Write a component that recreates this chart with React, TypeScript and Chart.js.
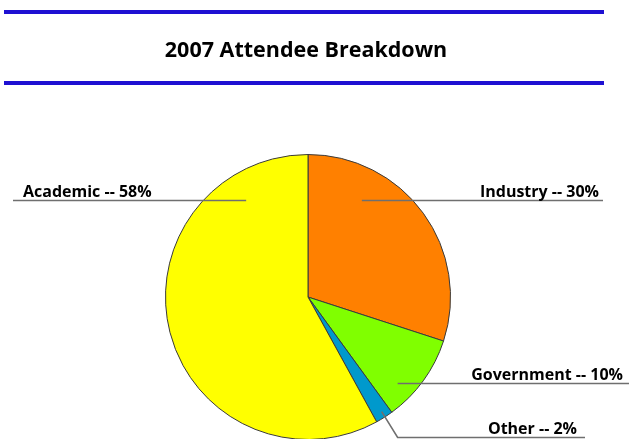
import React, { useEffect, useRef } from "react";
import { Chart, registerables } from "chart.js";

Chart.register(...registerables);

const TITLE = "2007 Attendee Breakdown";
const categories = ["Industry", "Government", "Other", "Academic"];
const percentages = [30, 10, 2, 58];
const sliceColors = ["#FF8000", "#80FF00", "#0099CC", "#FFFF00"];

// Label leader layout, expressed relative to the pie centre in radius units
const labelLayout = [
  { ax: 0.378, ly: -0.678, side: "right", endX: 603, textX: 599 },
  { ax: 0.629, ly: 0.601, side: "right", endX: 629, textX: 623 },
  { ax: 0.517, ay: 0.804, ly: 0.979, elbowX: 0.629, side: "right", endX: 585, textX: 577 },
  { ax: -0.434, ly: -0.678, side: "left", endX: 13, textX: 23 },
];

const FONT = "'Open Sans', 'DejaVu Sans', sans-serif";

const decorPlugin = {
  id: "decor",
  afterDraw(chart: any) {
    const ctx = chart.ctx;
    const meta = chart.getDatasetMeta(0);
    const arc0 = meta.data[0];
    if (!arc0) return;
    const cx = arc0.x;
    const cy = arc0.y;
    const r = arc0.outerRadius;

    ctx.save();
    ctx.fillStyle = "#1E10D2";
    ctx.fillRect(4, 10, 600, 4);
    ctx.fillRect(4, 81, 600, 4);
    ctx.fillStyle = "#000";
    ctx.font = `bold 21.5px ${FONT}`;
    ctx.textAlign = "center";
    ctx.textBaseline = "alphabetic";
    ctx.fillText(TITLE, 306, 57);

    ctx.strokeStyle = "#6f6f6f";
    ctx.lineWidth = 1.6;
    ctx.font = `bold 16px ${FONT}`;
    labelLayout.forEach((l: any, i: number) => {
      const y = Math.round(cy + l.ly * r) + 0.5;
      const ax = cx + l.ax * r;
      ctx.beginPath();
      if (l.ay !== undefined) {
        ctx.moveTo(ax, cy + l.ay * r);
        ctx.lineTo(cx + l.elbowX * r, y);
      } else {
        ctx.moveTo(ax, y);
      }
      ctx.lineTo(l.endX, y);
      ctx.stroke();
      ctx.fillStyle = "#000";
      ctx.textAlign = l.side === "left" ? "left" : "right";
      ctx.fillText(`${categories[i]} -- ${percentages[i]}%`, l.textX, y - 4);
    });
    ctx.restore();
  },
};

export default function App() {
  const ref = useRef<HTMLCanvasElement>(null);
  useEffect(() => {
    if (!ref.current) return;
    const chart = new Chart(ref.current, {
      type: "pie",
      data: {
        labels: categories,
        datasets: [
          {
            data: percentages,
            backgroundColor: sliceColors,
            borderColor: "#3a3a3a",
            borderWidth: 1,
          },
        ],
      },
      options: {
        responsive: false,
        animation: false,
        layout: { padding: { top: 154, left: 165, right: 178, bottom: 20 } },
        plugins: {
          legend: { display: false },
          tooltip: { enabled: false },
          title: { display: false },
        },
      },
      plugins: [decorPlugin],
    });
    return () => chart.destroy();
  }, []);
  return (
    <div
      style={{
        position: "fixed",
        left: 0,
        top: 0,
        width: 629,
        height: 439,
        overflow: "hidden",
        background: "#fff",
      }}
    >
      <canvas ref={ref} width={629} height={460} style={{ display: "block" }} />
    </div>
  );
}
